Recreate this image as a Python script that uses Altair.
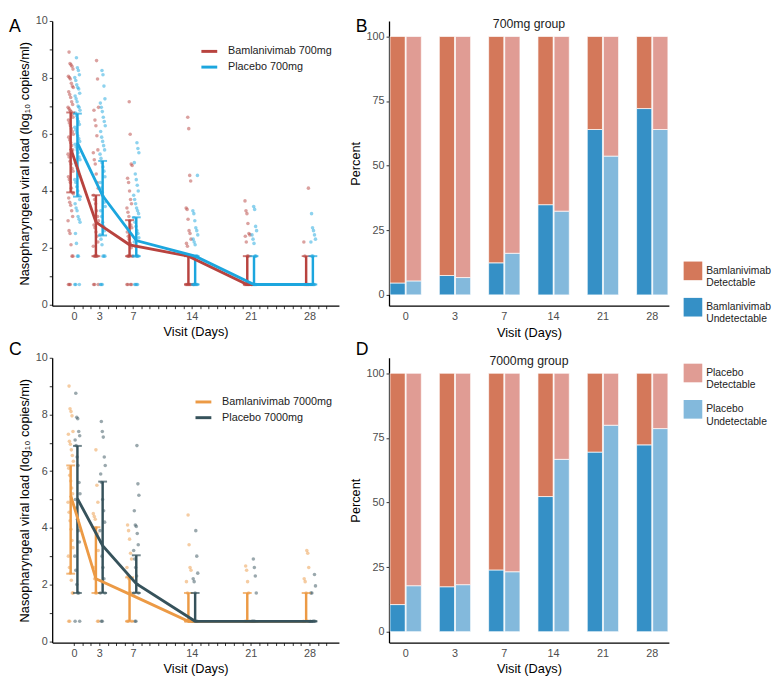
import altair as alt
import pandas as pd

FONT = "Liberation Sans"
DAYS = [0, 3, 7, 14, 21, 28]
LABELLED_DAYS = [0, 3, 7, 14, 21, 28]
TICK_DAYS = list(range(0, 31))

# ---------------- Panel A: 700mg viral load (log10 copies/ml) ----------------
A_GROUPS = ["Bamlanivimab 700mg", "Placebo 700mg"]
A_COLORS = ["#b8433f", "#1ca6de"]

A_BAM_D0 = [8.9, 8.5, 8.45, 8.4, 8.3, 8.05, 8.0, 7.95, 7.8, 7.7, 7.65, 7.5, 7.4, 7.3, 7.15, 7.05, 6.95, 6.9,
            6.85, 6.8, 6.7, 6.6, 6.5, 6.4, 6.3, 6.2, 6.1, 6.0, 5.9, 5.8, 5.7, 5.6, 5.45, 5.3, 5.2, 5.05, 4.95,
            4.8, 4.7, 4.5, 4.4, 4.3, 4.1, 3.95, 3.9, 3.75, 3.6, 3.5, 3.3, 3.1, 2.95, 2.6, 2.5, 2.1, 1.7, 1.7,
            0.7, 0.7, 0.7]
A_BAM_D3 = [8.6, 7.95, 6.95, 6.85, 6.5, 6.3, 5.95, 5.45, 5.35, 5.1, 4.95, 4.6, 4.3, 4.1, 3.85, 3.7, 3.55, 3.3,
            3.1, 2.95, 2.8, 2.7, 2.55, 2.4, 2.2, 2.05, 1.7, 1.7, 1.7, 1.7, 0.7, 0.7, 0.7]
A_BAM_D7 = [7.15, 6.0, 4.95, 4.9, 4.45, 4.3, 4.0, 3.7, 3.55, 3.4, 3.25, 3.1, 2.95, 2.8, 2.7, 2.55, 2.4, 2.3,
            2.15, 2.0, 1.7, 1.7, 1.7, 1.7, 0.7, 0.7, 0.7, 0.7]
A_BAM_D14 = [6.6, 6.2, 4.55, 4.35, 3.4, 3.35, 3.0, 2.6, 2.5, 2.3, 2.15, 2.05, 1.7, 1.7, 1.7,
             0.7, 0.7, 0.7, 0.7, 0.7, 0.7]
A_BAM_D21 = [3.65, 3.3, 3.2, 2.85, 2.5, 2.45, 2.4, 2.2, 1.7, 1.7, 0.7, 0.7, 0.7, 0.7, 0.7, 0.7]
A_BAM_D28 = [4.1, 2.2, 1.7, 0.7, 0.7, 0.7, 0.7, 0.7]

A_PLA_D0 = [8.7, 8.35, 8.25, 8.1, 8.0, 7.9, 7.75, 7.65, 7.6, 7.45, 7.35, 7.25, 7.15, 7.0, 6.95, 6.85, 6.75,
            6.65, 6.55, 6.45, 6.35, 6.25, 6.15, 6.05, 5.95, 5.85, 5.75, 5.65, 5.55, 5.45, 5.35, 5.2, 5.1, 5.0,
            4.9, 4.8, 4.7, 4.55, 4.4, 4.3, 4.15, 4.0, 3.85, 3.7, 3.55, 3.4, 3.3, 3.1, 3.0, 2.9, 2.5, 2.15,
            1.7, 1.7, 0.7, 0.7, 0.7]
A_PLA_D3 = [8.25, 8.1, 7.7, 7.25, 7.1, 6.95, 6.8, 6.6, 6.45, 6.3, 6.1, 5.9, 5.75, 5.6, 5.45, 5.3, 5.15, 5.0,
            4.85, 4.7, 4.5, 4.3, 4.1, 3.95, 3.8, 3.6, 3.45, 3.3, 3.1, 2.9, 2.75, 2.6, 2.45, 2.3, 2.1, 1.7, 1.7,
            1.7, 0.7, 0.7, 0.7]
A_PLA_D7 = [5.7, 5.5, 5.35, 5.0, 4.6, 4.4, 4.2, 4.0, 3.85, 3.7, 3.55, 3.4, 3.3, 3.2, 3.05, 2.9, 2.75, 2.6,
            2.5, 2.35, 2.2, 2.05, 1.7, 1.7, 1.7, 1.7, 0.7, 0.7, 0.7, 0.7]
A_PLA_D14 = [4.55, 3.3, 3.2, 2.95, 2.7, 2.6, 2.45, 2.3, 2.2, 2.1, 1.7, 1.7, 1.7,
             0.7, 0.7, 0.7, 0.7, 0.7, 0.7, 0.7]
A_PLA_D21 = [3.45, 3.35, 2.75, 2.6, 2.45, 2.3, 2.15, 1.7, 1.7, 0.7, 0.7, 0.7, 0.7, 0.7, 0.7, 0.7]
A_PLA_D28 = [3.2, 2.7, 2.6, 2.45, 2.3, 2.2, 1.7, 1.7, 0.7, 0.7, 0.7, 0.7, 0.7, 0.7]

A_BAM_MED = [5.5, 2.9, 2.1, 1.7, 0.7, 0.7]
A_BAM_Q1 = [3.95, 1.7, 1.7, 0.7, 0.7, 0.7]
A_BAM_Q3 = [6.77, 3.85, 2.97, 1.7, 1.7, 1.7]
A_PLA_MED = [5.7, 3.83, 2.25, 1.7, 0.7, 0.7]
A_PLA_Q1 = [3.8, 2.43, 1.7, 0.7, 0.7, 0.7]
A_PLA_Q3 = [6.73, 5.06, 3.07, 1.7, 1.7, 1.7]

# ---------------- Panel C: 7000mg viral load ----------------
C_GROUPS = ["Bamlanivimab 7000mg", "Placebo 7000mg"]
C_COLORS = ["#ec9a45", "#36525b"]

C_BAM_D0 = [9.0, 8.2, 8.1, 7.95, 7.4, 7.3, 7.05, 6.95, 6.75, 6.55, 6.35, 6.1, 5.85, 5.65, 5.4, 5.2, 4.9,
            4.55, 4.25, 3.95, 3.55, 3.3, 3.0, 2.6, 2.4, 2.15, 1.7, 1.7, 0.7, 0.7]
C_BAM_D3 = [6.75, 5.5, 4.9, 4.5, 4.4, 4.3, 4.0, 3.8, 3.2, 2.6, 2.2, 1.7, 1.7, 0.7, 0.7]
C_BAM_D7 = [4.1, 3.9, 3.6, 3.1, 2.9, 2.6, 2.3, 2.2, 1.7, 1.7, 0.7, 0.7, 0.7]
C_BAM_D14 = [4.45, 3.4, 2.6, 2.5, 2.1, 1.7, 0.7, 0.7, 0.7, 0.7]
C_BAM_D21 = [2.65, 2.5, 2.1, 1.7, 0.7, 0.7, 0.7, 0.7]
C_BAM_D28 = [3.2, 3.1, 2.6, 2.2, 2.1, 1.7, 0.7, 0.7, 0.7]

C_PLA_D0 = [8.75, 7.9, 7.85, 7.4, 7.25, 7.1, 6.9, 6.5, 6.2, 5.6, 5.2, 5.0, 4.7, 4.3, 3.9, 3.5, 3.0, 2.5,
            2.0, 1.7, 1.7, 0.7, 0.7]
C_PLA_D3 = [7.75, 7.4, 7.2, 6.5, 6.2, 5.9, 5.6, 5.0, 4.6, 4.2, 3.9, 3.5, 3.0, 2.6, 2.2, 1.7, 1.7, 0.7, 0.7]
C_PLA_D7 = [6.9, 5.55, 5.15, 4.6, 4.1, 4.05, 3.8, 3.4, 3.2, 2.9, 2.6, 2.3, 2.0, 1.7, 1.7, 0.7, 0.7]
C_PLA_D14 = [3.9, 3.0, 2.4, 2.2, 2.1, 1.7, 0.7, 0.7, 0.7, 0.7]
C_PLA_D21 = [2.9, 2.6, 2.3, 1.7, 0.7, 0.7, 0.7, 0.7]
C_PLA_D28 = [2.35, 1.95, 1.7, 1.7, 0.7, 0.7, 0.7, 0.7]

C_BAM_MED = [5.14, 2.2, 1.66, 0.7, 0.7, 0.7]
C_BAM_Q1 = [2.38, 1.7, 0.7, 0.7, 0.7, 0.7]
C_BAM_Q3 = [6.2, 4.02, 2.25, 1.7, 1.7, 1.7]
C_PLA_MED = [5.03, 3.37, 2.03, 0.7, 0.7, 0.7]
C_PLA_Q1 = [1.7, 1.7, 1.7, 0.7, 0.7, 0.7]
C_PLA_Q3 = [6.89, 5.63, 3.03, 1.7, 0.7, 0.7]

# ---------------- Panels B / D: percent undetectable ----------------
B_BAM_UNDET = [4.6, 7.5, 12.4, 34.9, 64.0, 72.1]
B_PLA_UNDET = [5.4, 6.7, 16.1, 32.4, 53.7, 64.0]
D_BAM_UNDET = [10.5, 17.4, 23.9, 52.3, 69.5, 72.3]
D_PLA_UNDET = [17.8, 18.2, 23.2, 66.7, 79.9, 78.6]

BAR_KEYS = ["Bamlanivimab Detectable", "Bamlanivimab Undetectable",
            "Placebo Detectable", "Placebo Undetectable"]
BAR_COLORS = ["#d4785a", "#3590c6", "#e09c94", "#83b9dc"]

W_LINE, W_BAR, H = 292, 285, 290


def points_df(groups, bam_lists, pla_lists):
    rows = []
    for name, lists in ((groups[0], bam_lists), (groups[1], pla_lists)):
        for d, vals in zip(DAYS, lists):
            for v in vals:
                rows.append({"day": d, "grp": name, "val": v})
    return pd.DataFrame(rows)


def summary_df(groups, bam, pla):
    rows = []
    for name, (med, q1, q3) in ((groups[0], bam), (groups[1], pla)):
        for i, d in enumerate(DAYS):
            rows.append({"day": d, "grp": name, "med": med[i], "q1": q1[i], "q3": q3[i]})
    return pd.DataFrame(rows)


def text_layer(text, x, y, size, align="left", baseline="top", color="#000"):
    return alt.Chart(pd.DataFrame({"t": [text]})).mark_text(
        align=align, baseline=baseline, fontSize=size, font=FONT, color=color
    ).encode(text="t:N", x=alt.value(x), y=alt.value(y))


def line_panel(pts, summ, groups, colors, leg_x, leg_y, letter, letter_y):
    dodge = "datum.day + (datum.grp == '%s' ? -0.4 : 0.4)" % groups[0]
    xs = alt.Scale(domain=[-2.6, 31.5], nice=False, zero=False)
    ys = alt.Scale(domain=[-0.05, 10], nice=False, zero=False)
    xaxis = alt.Axis(title="Visit (Days)", values=TICK_DAYS,
                     labelExpr="indexof(%s, datum.value) >= 0 ? datum.label : ''" % str(LABELLED_DAYS))
    yaxis = alt.Axis(title="Nasopharyngeal viral load (log₁₀ copies/ml)", values=list(range(0, 11)),
                     labelExpr="datum.value % 2 == 0 ? datum.label : ''")
    legend = alt.Legend(title=None, orient="none", legendX=leg_x, legendY=leg_y, symbolType="stroke",
                        symbolStrokeWidth=3, symbolSize=260, labelFontSize=11, labelFont=FONT,
                        labelColor="#222", rowPadding=-3, symbolOpacity=1, labelOffset=9)
    color = alt.Color("grp:N", scale=alt.Scale(domain=groups, range=colors), legend=legend)

    pts_layer = alt.Chart(pts).transform_window(rn="row_number()").transform_calculate(
        xp=dodge + " + (((datum.rn * 37) % 17) / 16 - 0.5) * 0.62"
    ).mark_circle(size=13, opacity=0.5).encode(
        x=alt.X("xp:Q", scale=xs, axis=xaxis), y=alt.Y("val:Q", scale=ys, axis=yaxis), color=color)

    base = alt.Chart(summ).transform_calculate(xp=dodge)
    xenc = alt.X("xp:Q", scale=xs, axis=xaxis)
    rules = base.mark_rule(strokeWidth=2.5).encode(
        x=xenc, y=alt.Y("q1:Q", scale=ys, axis=yaxis), y2="q3:Q", color=color)
    cap_lo = base.mark_tick(orient="horizontal", size=9, thickness=2).encode(
        x=xenc, y=alt.Y("q1:Q", scale=ys, axis=yaxis), color=color)
    cap_hi = base.mark_tick(orient="horizontal", size=9, thickness=2).encode(
        x=xenc, y=alt.Y("q3:Q", scale=ys, axis=yaxis), color=color)
    line = base.mark_line(strokeWidth=2.9).encode(
        x=xenc, y=alt.Y("med:Q", scale=ys, axis=yaxis), color=color)

    return alt.layer(pts_layer, rules, cap_lo, cap_hi, line,
                     text_layer(letter, -44, letter_y, 18)).properties(width=W_LINE, height=H)


def bar_panel(bam, pla, legend_vals, leg_x, leg_y, letter, letter_y, title):
    rows = []
    for i, d in enumerate(DAYS):
        for trt, u in (("Bamlanivimab", bam[i]), ("Placebo", pla[i])):
            rows.append({"day": str(d), "trt": trt, "status": "Undetectable", "pct": u, "ord": 0,
                         "key": trt + " Undetectable"})
            rows.append({"day": str(d), "trt": trt, "status": "Detectable", "pct": 100 - u, "ord": 1,
                         "key": trt + " Detectable"})
    df = pd.DataFrame(rows)
    legend = alt.Legend(title=None, orient="none", legendX=leg_x, legendY=leg_y, values=legend_vals,
                        labelExpr="split(datum.label, ' ')", symbolType="square", symbolSize=360,
                        symbolStrokeWidth=0, labelFontSize=10.5, labelFont=FONT, labelColor="#222",
                        rowPadding=9, labelOffset=4)
    bars = alt.Chart(df).mark_bar(stroke="white", strokeWidth=0.7).encode(
        x=alt.X("day:N", sort=[str(d) for d in DAYS],
                scale=alt.Scale(paddingInner=0.365, paddingOuter=0.02),
                axis=alt.Axis(title="Visit (Days)", labelAngle=0, ticks=False, labelPadding=5,
                              titlePadding=5)),
        xOffset=alt.XOffset("trt:N", scale=alt.Scale(paddingInner=0.06)),
        y=alt.Y("pct:Q", stack="zero", scale=alt.Scale(domain=[-4.2, 106], nice=False, zero=False),
                axis=alt.Axis(title="Percent", values=[0, 25, 50, 75, 100])),
        color=alt.Color("key:N", scale=alt.Scale(domain=BAR_KEYS, range=BAR_COLORS), legend=legend),
        order=alt.Order("ord:Q"),
    )
    return alt.layer(
        bars,
        text_layer(letter, -34, letter_y, 18),
        text_layer(title, W_BAR / 2, 3, 12.5, align="center", baseline="middle", color="#222"),
    ).properties(width=W_BAR, height=H)


A = line_panel(points_df(A_GROUPS, [A_BAM_D0, A_BAM_D3, A_BAM_D7, A_BAM_D14, A_BAM_D21, A_BAM_D28],
                         [A_PLA_D0, A_PLA_D3, A_PLA_D7, A_PLA_D14, A_PLA_D21, A_PLA_D28]),
               summary_df(A_GROUPS, (A_BAM_MED, A_BAM_Q1, A_BAM_Q3), (A_PLA_MED, A_PLA_Q1, A_PLA_Q3)),
               A_GROUPS, A_COLORS, 150, 21, "A", -3)
C = line_panel(points_df(C_GROUPS, [C_BAM_D0, C_BAM_D3, C_BAM_D7, C_BAM_D14, C_BAM_D21, C_BAM_D28],
                         [C_PLA_D0, C_PLA_D3, C_PLA_D7, C_PLA_D14, C_PLA_D21, C_PLA_D28]),
               summary_df(C_GROUPS, (C_BAM_MED, C_BAM_Q1, C_BAM_Q3), (C_PLA_MED, C_PLA_Q1, C_PLA_Q3)),
               C_GROUPS, C_COLORS, 144, 35, "C", -17)
B = bar_panel(B_BAM_UNDET, B_PLA_UNDET, BAR_KEYS[:2], 300, 245, "B", -3, "700mg group")
D = bar_panel(D_BAM_UNDET, D_PLA_UNDET, BAR_KEYS[2:], 300, 6, "D", -17, "7000mg group")

chart = alt.concat(A, B, C, D, columns=2, spacing={"row": 0, "column": 9}, align="each").resolve_scale(
    color="independent"
).properties(
    padding={"left": 0, "top": 0, "right": 0, "bottom": 0}
).configure_axis(
    domainColor="#000", domainWidth=1.3, tickColor="#333", tickWidth=1, tickSize=3,
    labelColor="#4d4d4d", labelFont=FONT, labelFontSize=11, labelPadding=2,
    titleFont=FONT, titleFontSize=13, titleFontWeight="normal", titleColor="#000", titlePadding=4,
    grid=False
).configure_view(stroke="transparent")

chart.save("out.html", embed_options={"renderer": "svg", "actions": False})
